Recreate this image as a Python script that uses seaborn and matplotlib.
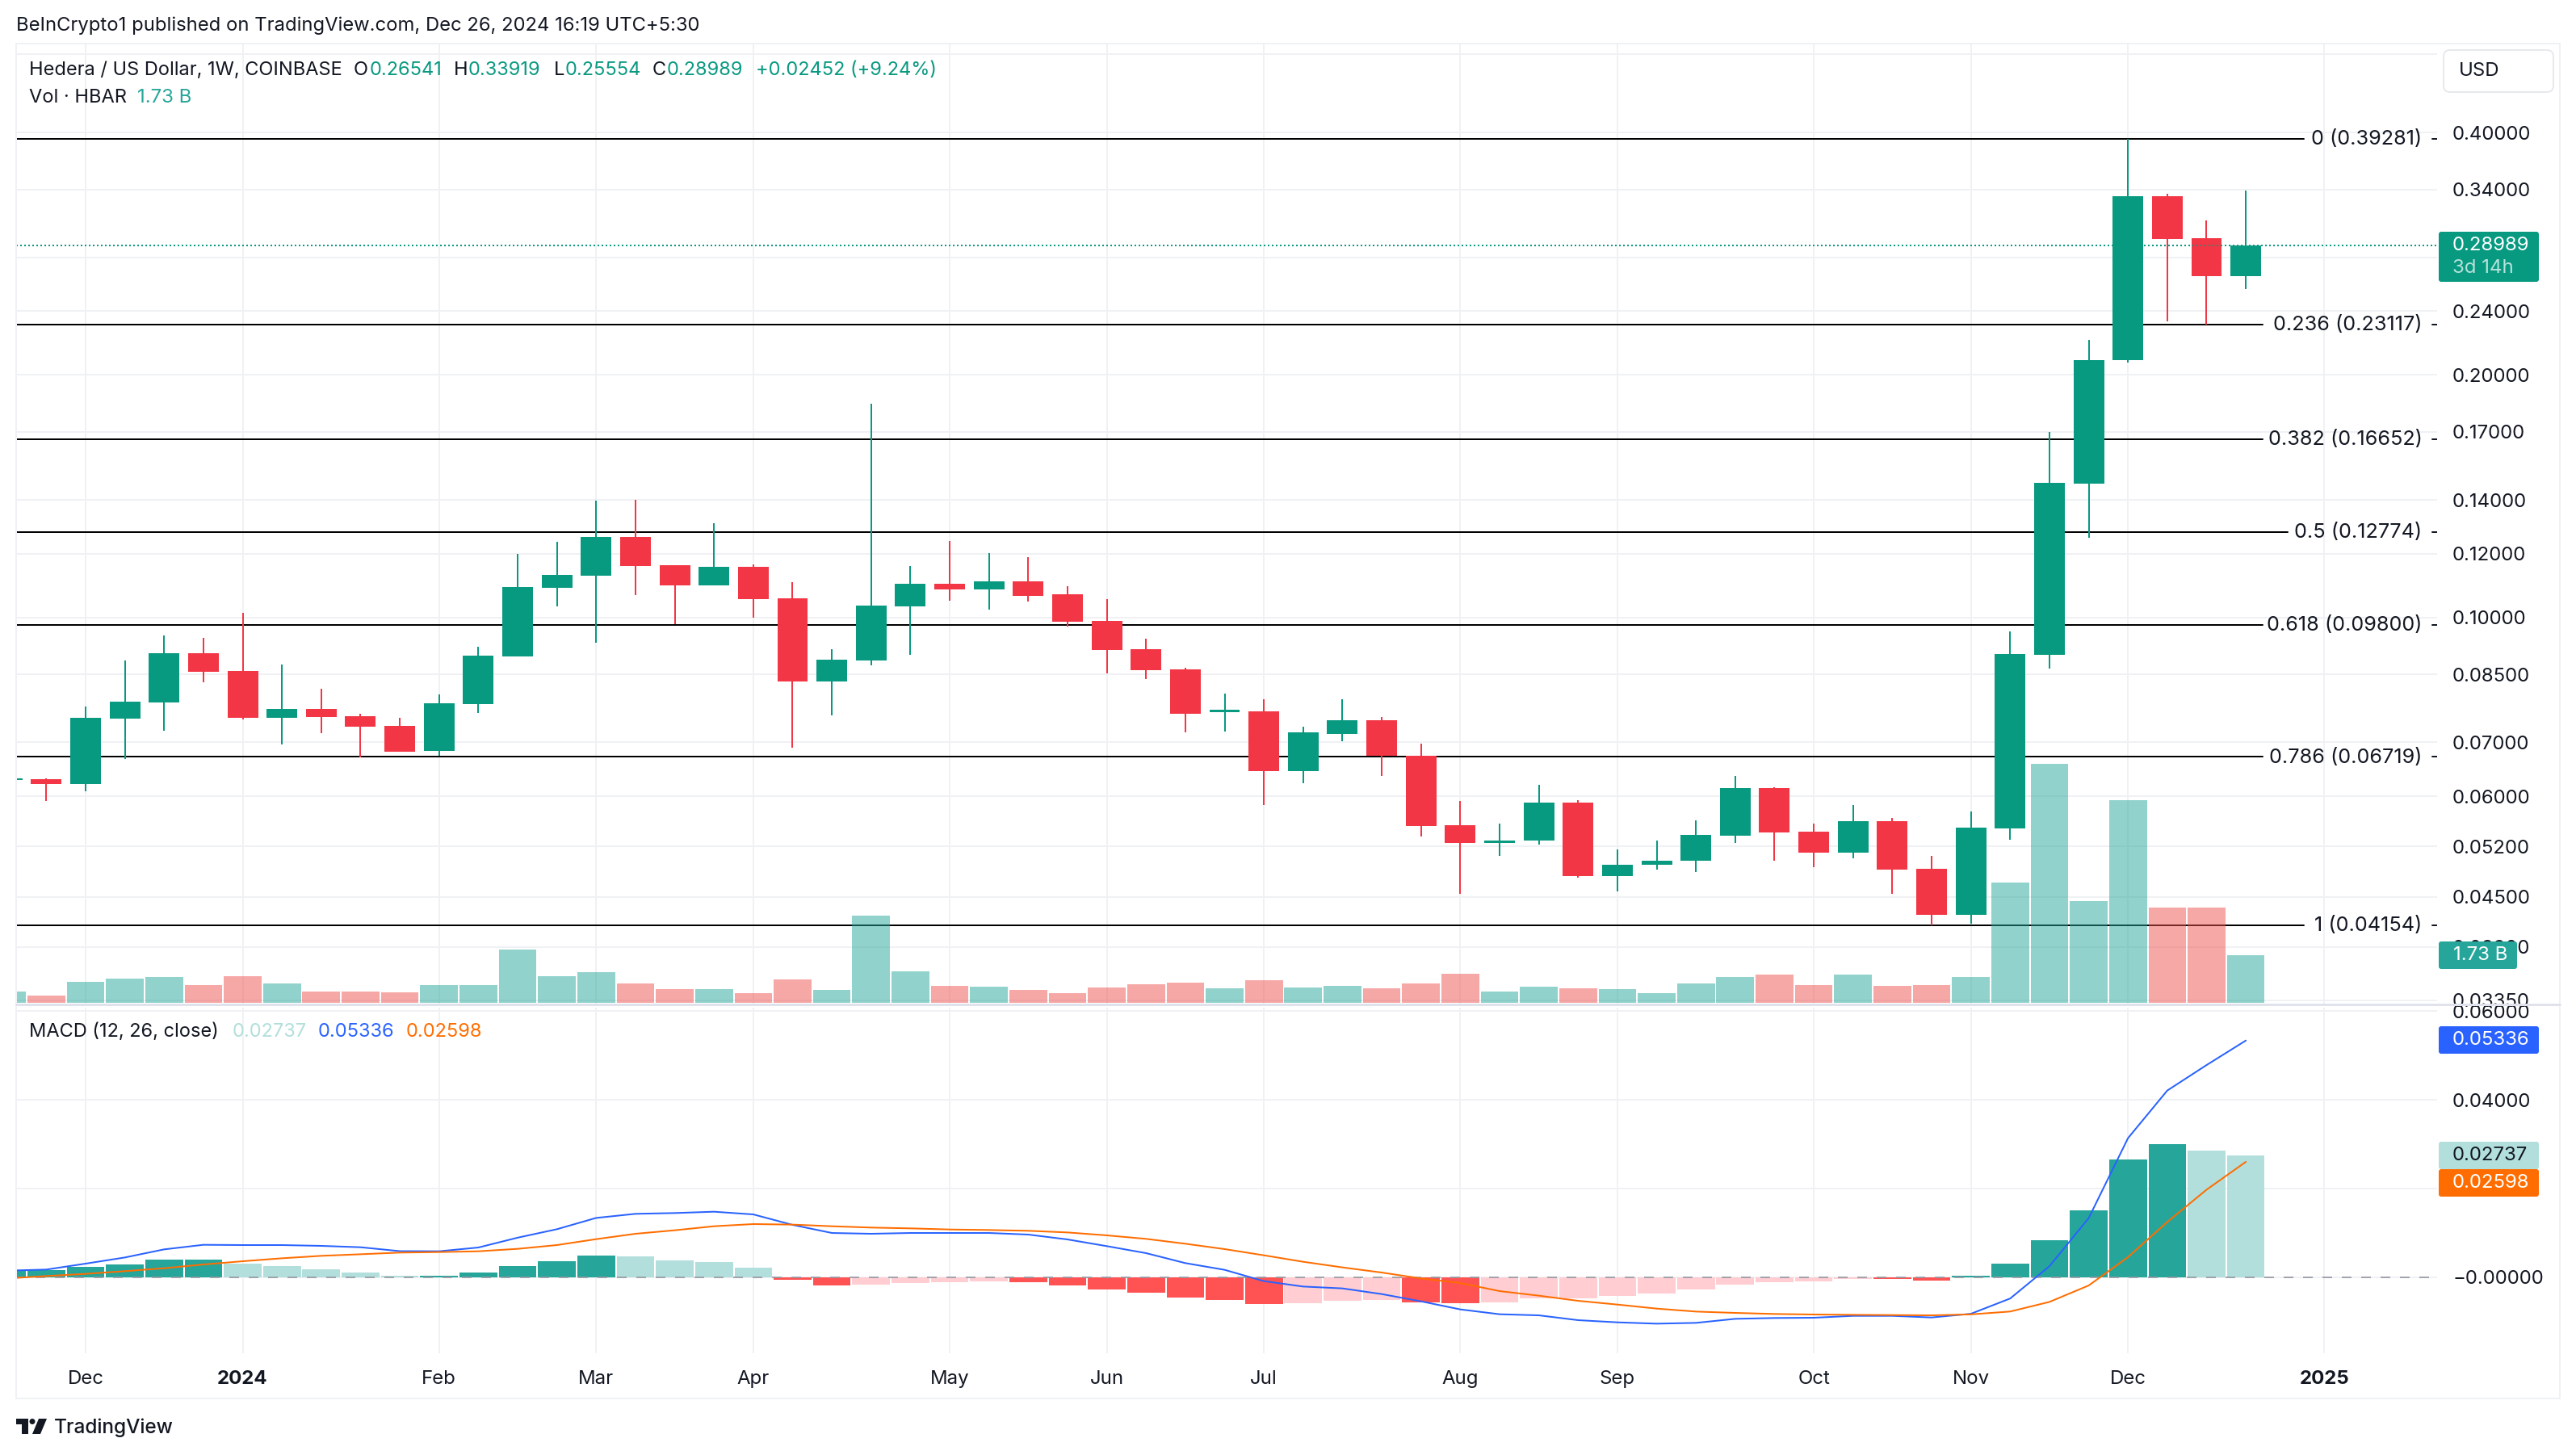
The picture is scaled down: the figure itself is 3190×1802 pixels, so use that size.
import numpy as np
import pandas as pd
import matplotlib
matplotlib.use("Agg")
import matplotlib.pyplot as plt
from matplotlib.patches import Rectangle, FancyBboxPatch, Polygon, Circle
from matplotlib.ticker import NullLocator
import seaborn as sns

# weeks counted from Dec 4 2023
weeks = list(range(-2, 56))

opens = [.0629, .0630, .06216, .07494, .07848, .09034, .08587, .07511, .07704, .07546,
         .07339, .06833, .07812, .08951, .10890, .11274, .12594, .11617, .10965, .11564,
         .10569, .08333, .08848, .10327, .11016, .10840, .11093, .10691, .09908, .09138,
         .08627, .07634, .07651, .06450, .07172, .07459, .06739, .05526, .05253, .05289,
         .05895, .04779, .04936, .04993, .05363, .06144, .05425, .05109, .05590, .04880,
         .04277, .05475, .08992, .14666, .20875, .33345, .29574, .26541]
highs = [.0635, .0632, .07758, .08848, .09504, .09439, .10138, .08746, .08161, .07600,
         .07511, .08031, .09202, .11998, .12420, .13971, .14003, .11617, .13097, .11644,
         .11067, .09138, .18429, .11590, .12449, .12026, .11888, .10940, .10544, .09417,
         .08668, .08049, .07920, .07322, .07920, .07529, .06976, .05922, .05552, .06201,
         .05935, .05156, .05289, .05603, .06361, .06158, .05552, .05854, .05642, .05062,
         .05748, .09615, .16999, .22115, .39281, .33577, .31116, .33919]
lows = [.0620, .05922, .06088, .06677, .07238, .08313, .07477, .06960, .07188, .06708,
        .06817, .06739, .07616, .08951, .10327, .09309, .10666, .09816, .10965, .09999,
        .06895, .07563, .08727, .08992, .10496, .10232, .10472, .09749, .08529, .08391,
        .07205, .07221, .05854, .06230, .07024, .06361, .05351, .04542, .05062, .05228,
        .04757, .04574, .04867, .04834, .05253, .04993, .04902, .05027, .04542, .04154,
        .04171, .05301, .08647, .12565, .20731, .23319, .23117, .25554]
closes = [.0632, .06216, .07511, .07866, .09034, .08567, .07511, .07704, .07529, .07322,
          .06817, .07830, .08971, .10915, .11300, .12594, .11590, .10965, .11564, .10544,
          .08333, .08868, .10351, .11016, .10840, .11093, .10642, .09885, .09118, .08607,
          .07600, .07686, .06450, .07205, .07459, .06739, .05514, .05253, .05289, .05895,
          .04779, .04936, .04993, .05376, .06144, .05413, .05109, .05590, .04867, .04277,
          .05488, .09013, .14700, .20875, .33345, .29506, .26535, .28989]
volume = [.41, .26, .76, .88, .93, .64, .96, .69, .41, .41, .38, .64, .64, 1.92, .96, 1.11,
          .69, .50, .50, .35, .85, .47, 3.16, 1.14, .61, .58, .47, .35, .56, .67, .73, .53,
          .82, .56, .61, .53, .70, 1.05, .41, .58, .53, .50, .35, .70, .94, 1.02, .64, 1.02,
          .61, .64, .94, 4.36, 8.66, 3.68, 7.34, 3.45, 3.45, 1.73]

macd_hist = [.0015, .0016, .0023, .0029, .0039, .0040, .0030, .0025, .0018, .0010, .0002,
             .0003, .0010, .0025, .0036, .0049, .0047, .0037, .0033, .0021, -.0006, -.0019,
             -.0017, -.0013, -.0012, -.0010, -.0012, -.0019, -.0028, -.0035, -.0046, -.0052,
             -.0061, -.0060, -.0054, -.0052, -.0058, -.0060, -.0058, -.0049, -.0048, -.0043,
             -.0038, -.0029, -.0018, -.0012, -.0010, -.0004, -.0005, -.0009, .0003, .0031,
             .0083, .0151, .0266, .0300, .0286, .02737]
macd_line = [.00143, .00167, .00301, .00440, .00623, .00726, .00720, .00720, .00702, .00671,
             .00583, .00580, .00665, .00887, .01078, .01333, .01425, .01443, .01473, .01412,
             .01176, .00993, .00975, .00993, .00993, .00993, .00957, .00847, .00696, .00538,
             .00313, .00161, -.00094, -.00216, -.00258, -.00386, -.00550, -.00732, -.00841,
             -.00866, -.00975, -.01024, -.01054, -.01036, -.00945, -.00926, -.00920, -.00878,
             -.00878, -.00914, -.00831, -.00486, .00243, .01330, .03133, .04208, .04783, .05336]
signal_line = [-.00033, .00021, .00070, .00131, .00197, .00282, .00355, .00422, .00477, .00513,
               .00550, .00562, .00580, .00635, .00720, .00854, .00975, .01054, .01145, .01194,
               .01182, .01145, .01115, .01097, .01072, .01060, .01042, .01005, .00939, .00860,
               .00750, .00629, .00489, .00343, .00216, .00100, -.00033, -.00137, -.00319,
               -.00422, -.00538, -.00623, -.00714, -.00781, -.00811, -.00835, -.00847, -.00854,
               -.00860, -.00866, -.00844, -.00780, -.00563, -.00192, .00448, .01241, .01970, .02598]

fib_prices = [.39281, .23117, .16652, .12774, .09800, .06719, .04154]
fib_labels = ["0 (0.39281)", "0.236 (0.23117)", "0.382 (0.16652)", "0.5 (0.12774)",
              "0.618 (0.09800)", "0.786 (0.06719)", "1 (0.04154)"]
fib_line_end = [56.48, 55.42, 55.42, 56.07, 55.42, 55.42, 56.48]

price_ticks = [.5, .4, .34, .28, .24, .2, .17, .14, .12, .1, .085, .07, .06, .052, .045, .039, .0335]
price_tick_labels = ["", "0.40000", "0.34000", "", "0.24000", "0.20000", "0.17000", "0.14000",
                     "0.12000", "0.10000", "0.08500", "0.07000", "0.06000", "0.05200", "0.04500",
                     "0.03900", "0.03350"]
macd_ticks = [.06, .04, .02, 0]
macd_tick_labels = ["0.06000", "0.04000", "", "\u22120.00000"]
time_ticks = [0, 4, 9, 13, 17, 22, 26, 30, 35, 39, 44, 48, 52, 57]
time_labels = ["Dec", "2024", "Feb", "Mar", "Apr", "May", "Jun", "Jul", "Aug", "Sep", "Oct", "Nov", "Dec", "2025"]

GREEN = "#089981"
RED = "#f23645"
INK = "#131722"
GRID = "#f0f1f4"
W, H = 3190, 1802
PX = 72 / 100  # one pixel in points at dpi 100

sns.set_theme(style="white")
plt.rcParams["font.family"] = ["Inter", "DejaVu Sans"]

df = pd.DataFrame({"week": weeks, "open": opens, "high": highs, "low": lows, "close": closes,
                   "volume": volume, "hist": macd_hist, "macd": macd_line, "signal": signal_line})
df["side"] = np.where(df["close"] >= df["open"], "up", "down")
# histogram colour: sign and whether it grew against the week before
rising = df["hist"].diff().fillna(1) > 0
df["hist_kind"] = np.select(
    [(df["hist"] >= 0) & rising, df["hist"] >= 0, rising],
    ["up_strong", "up_weak", "down_weak"], default="down_strong")

fig = plt.figure(figsize=(W / 100, H / 100), dpi=100, facecolor="white")


def pane(x0, y0, x1, y1):
    return fig.add_axes([x0 / W, 1 - y1 / H, (x1 - x0) / W, (y1 - y0) / H])


ax = pane(20, 54, 3018, 1244)
ax_macd = pane(20, 1248, 3018, 1676)
ax_vol = ax.twinx()

xlim = (-1.768, 59.87)

# price pane
ax.set_yscale("log")
ax.set_ylim(.0331, .5157)
ax.set_yticks(price_ticks, price_tick_labels)
ax.yaxis.set_minor_locator(NullLocator())
ax.bar(df["week"], df["close"] - df["open"], bottom=df["open"], width=.78,
       color=df["side"].map({"up": GREEN, "down": RED}), linewidth=0, zorder=3)
ax.vlines(df["week"], df["low"], df["high"], colors=df["side"].map({"up": GREEN, "down": RED}),
          linewidth=2 * PX, zorder=2.9)
for price, label_text, end in zip(fib_prices, fib_labels, fib_line_end):
    ax.plot([xlim[0], end], [price, price], color="black", lw=2 * PX, zorder=2)
    ax.plot([59.74, xlim[1]], [price, price], color=INK, lw=2 * PX, zorder=2)
    ax.text(59.49, price * .998, label_text, ha="right", va="center", fontsize=25.3 * PX, color=INK)
ax.axhline(closes[-1], color=GREEN, lw=2 * PX, ls=(0, (1, 1.5)), zorder=4)

# volume pane sits over the price pane
sns.barplot(data=df, x="week", y="volume", hue="side", palette={"up": "#26a69a", "down": "#ef5350"},
            native_scale=True, dodge=False, width=.96, saturation=1, errorbar=None, legend=False,
            alpha=.5, linewidth=0, ax=ax_vol)
ax_vol.set_ylim(-2 / 34.2, (1242 - 54) / 34.2)
ax_vol.set(xlabel="", ylabel="", yticks=[])

# MACD pane
sns.barplot(data=df, x="week", y="hist", hue="hist_kind",
            palette={"up_strong": "#26a69a", "up_weak": "#b2dfdb", "down_strong": "#ff5252", "down_weak": "#ffcdd2"},
            native_scale=True, dodge=False, width=.96, saturation=1, errorbar=None, legend=False,
            linewidth=0, ax=ax_macd)
ax_macd.axhline(0, color="#9598a1", lw=2 * PX, ls=(0, (6, 6)), alpha=.85, zorder=2.5)
sns.lineplot(data=df, x="week", y="macd", color="#2962ff", linewidth=2 * PX, errorbar=None, ax=ax_macd, zorder=3)
sns.lineplot(data=df, x="week", y="signal", color="#ff6d00", linewidth=2 * PX, errorbar=None, ax=ax_macd, zorder=3.1)
ax_macd.set_ylim(-.01722, .06078)
ax_macd.set_yticks(macd_ticks, macd_tick_labels)
ax_macd.set(xlabel="", ylabel="")

for a in (ax, ax_macd):
    a.set_facecolor("white")
    a.set_xlim(*xlim)
    a.set_xticks(time_ticks)
    a.grid(True, color=GRID, lw=2 * PX)
    a.set_axisbelow(True)
    a.yaxis.tick_right()
    a.tick_params(axis="y", length=0, pad=19 * PX, labelsize=24 * PX, labelcolor=INK)
    for side in a.spines.values():
        side.set_visible(False)
ax_vol.set_xlim(*xlim)
ax_vol.patch.set_visible(False)
for side in ax_vol.spines.values():
    side.set_visible(False)
ax_vol.tick_params(length=0, labelright=False, labelbottom=False)
ax.tick_params(axis="x", length=0, labelbottom=False)
ax_macd.set_xticks(time_ticks, time_labels)
ax_macd.tick_params(axis="x", length=0, pad=21 * PX, labelsize=24 * PX, labelcolor=INK)
for tl in ax_macd.get_xticklabels():
    if tl.get_text() in ("2024", "2025"):
        tl.set_fontweight("bold")

# page furniture, drawn in pixels over everything
top = fig.add_axes([0, 0, 1, 1], zorder=10)
top.set_xlim(0, W)
top.set_ylim(H, 0)
top.axis("off")
top.patch.set_visible(False)
top.add_patch(Rectangle((20, 53.5), 3150, 1678, fill=False, ec="#f0f1f4", lw=2 * PX))
top.plot([20, 3170], [1244, 1244], color="#e0e3eb", lw=3 * PX)


def label(x, y, s, color=INK, size=24, **kw):
    top.text(x, y, s, color=color, fontsize=size * PX, va="center", ha=kw.pop("ha", "left"), **kw)


def badge(x0, y0, x1, y1, color):
    top.add_patch(FancyBboxPatch((x0 + 3, y0 + 3), x1 - x0 - 6, y1 - y0 - 6, boxstyle="round,pad=3,rounding_size=3",
                                 fc=color, ec="none"))


label(20, 32, "BeInCrypto1 published on TradingView.com, Dec 26, 2024 16:19 UTC+5:30", size=23.8)
label(36, 87, "Hedera / US Dollar, 1W, COINBASE", size=23.6)
for x, s in [(438, "O"), (562, "H"), (686, "L"), (808, "C")]:
    label(x, 87, s, size=23.6)
for x, s in [(458, "0.26541"), (580, "0.33919"), (700, "0.25554"), (826, "0.28989"), (936, "+0.02452 (+9.24%)")]:
    label(x, 87, s, color=GREEN, size=23.6)
label(36, 121, "Vol \u00b7 HBAR", size=23.6)
label(170, 121, "1.73 B", color="#26a69a", size=24)
label(36, 1278, "MACD (12, 26, close)", size=23.6)
label(288, 1278, "0.02737", color="#b2dfdb", size=23.6)
label(394, 1278, "0.05336", color="#2962ff", size=23.6)
label(503, 1278, "0.02598", color="#ff6d00", size=23.6)

top.add_patch(FancyBboxPatch((3030, 66), 128, 44, boxstyle="round,pad=4,rounding_size=8", fc="white", ec="#e8e9ec", lw=2 * PX))
label(3045, 88, "USD")

badge(3020, 287, 3144, 349, GREEN)
label(3037, 304, "0.28989", color="white")
label(3037, 332, "3d 14h", color="#b5e3da")
badge(3020, 1166, 3117, 1200, "#26a69a")
label(3038, 1183, "1.73 B", color="white")
badge(3020, 1271, 3144, 1305, "#2962ff")
label(3037, 1288, "0.05336", color="white")
badge(3020, 1414, 3144, 1448, "#b2dfdb")
label(3037, 1431, "0.02737")
badge(3020, 1448, 3144, 1482, "#ff6d00")
label(3037, 1465, "0.02598", color="white")

# TradingView mark
top.add_patch(Polygon([(20, 1757), (35, 1757), (35, 1776), (27, 1776), (27, 1764), (20, 1764)], fc=INK, ec="none"))
top.add_patch(Circle((40, 1760.5), 3.5, fc=INK, ec="none"))
top.add_patch(Polygon([(48, 1757), (58, 1757), (50, 1776), (40, 1776)], fc=INK, ec="none"))
label(67, 1768, "TradingView", size=24.4, fontweight="medium")

fig.savefig("out.png", dpi=100, facecolor="white")
